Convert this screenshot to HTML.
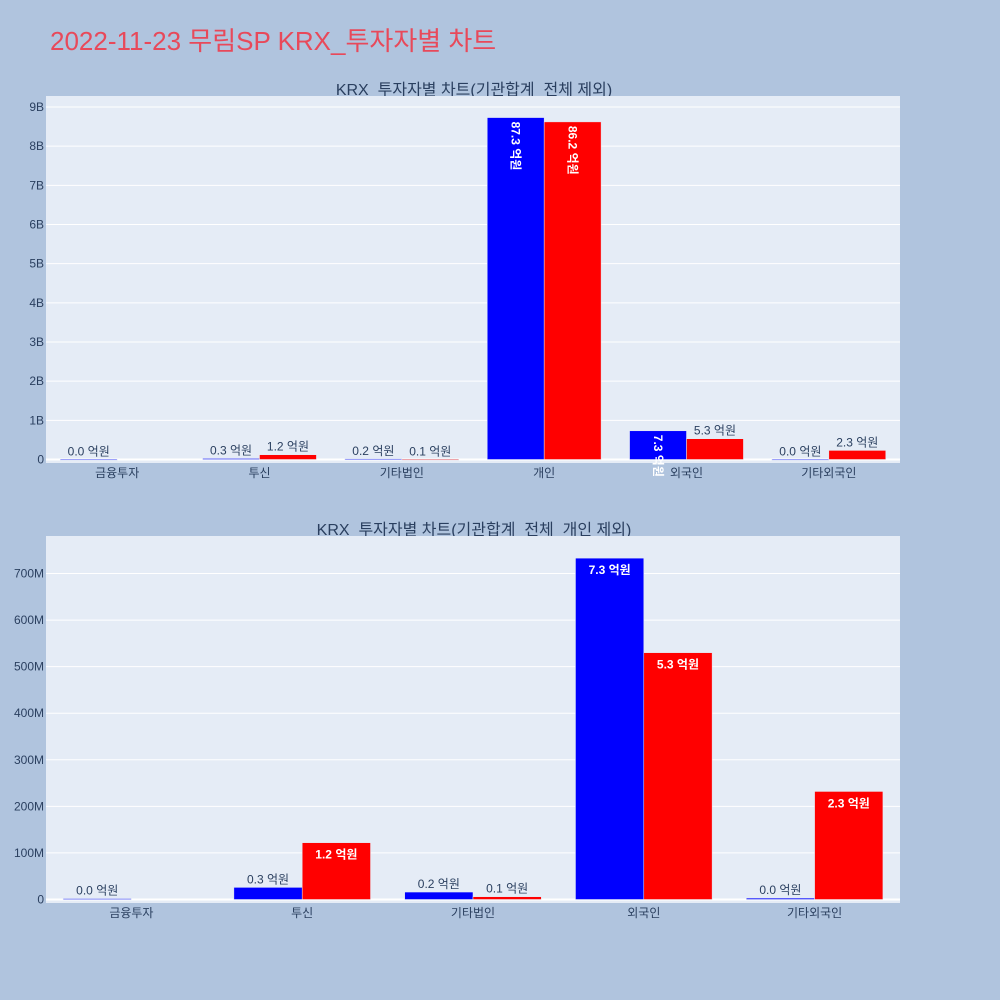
<!DOCTYPE html>
<html><head><meta charset="utf-8"><style>
body{margin:0;background:#b0c4de;}
svg{display:block;font-family:"Liberation Sans","Noto Sans CJK KR",sans-serif;}
</style></head><body>
<svg id="s" width="1000" height="1000">
<rect width="1000" height="1000" fill="#b0c4de"/>
<text x="50" y="50" font-size="26" fill="#e8495a">2022-11-23 무림SP KRX_투자자별 차트</text>
<text x="474" y="95" font-size="16" fill="#2a3f5f" text-anchor="middle">KRX_투자자별 차트(기관합계_전체 제외)</text>
<text x="474" y="535" font-size="16" fill="#2a3f5f" text-anchor="middle">KRX_투자자별 차트(기관합계_전체_개인 제외)</text>
<g id="g1"></g><g id="g2"></g>
</svg>
<script>
const topCats=["금융투자","투신","기타법인","개인","외국인","기타외국인"];
const topBuy=[0.002e9,0.026e9,0.016e9,8.73e9,0.733e9,0.003e9];
const topSell=[0,0.122e9,0.006e9,8.62e9,0.53e9,0.232e9];
const topBuyLbl=["0.0 억원","0.3 억원","0.2 억원","87.3 억원","7.3 억원","0.0 억원"];
const topSellLbl=["","1.2 억원","0.1 억원","86.2 억원","5.3 억원","2.3 억원"];
const topTicks=[0,1e9,2e9,3e9,4e9,5e9,6e9,7e9,8e9,9e9];
const topTickLbl=["0","1B","2B","3B","4B","5B","6B","7B","8B","9B"];
const botCats=["금융투자","투신","기타법인","외국인","기타외국인"];
const botBuy=[0.002e9,0.026e9,0.016e9,0.733e9,0.003e9];
const botSell=[0,0.122e9,0.006e9,0.53e9,0.232e9];
const botBuyLbl=["0.0 억원","0.3 억원","0.2 억원","7.3 억원","0.0 억원"];
const botSellLbl=["","1.2 억원","0.1 억원","5.3 억원","2.3 억원"];
const botTicks=[0,1e8,2e8,3e8,4e8,5e8,6e8,7e8];
const botTickLbl=["0","100M","200M","300M","400M","500M","600M","700M"];
const NS="http://www.w3.org/2000/svg";
function mk(p,t,a){const e=document.createElementNS(NS,t);for(const k in a)e.setAttribute(k,a[k]);p.appendChild(e);return e;}
function draw(g,cfg){
 const {x0,x1,yt,yb,y0,ymaxPx,ymax,cats,buy,sell,bl,sl,ticks,tl,pre}=cfg;
 const bg=mk(g,'rect',{x:x0,y:yt,width:x1-x0,height:yb-yt,fill:'#e5ecf6'});
 
 const Y=v=>y0-(v/ymax)*(y0-ymaxPx);
 ticks.forEach((t,i)=>{
  const gl=mk(g,'line',{x1:x0,x2:x1,y1:Y(t),y2:Y(t),stroke:'#fff','stroke-width':i==0?2:1});
  
  const tx=mk(g,'text',{x:x0-2,y:Y(t)+4,'font-size':12,fill:'#2a3f5f','text-anchor':'end'});tx.textContent=tl[i];
  
 });
 const cw=(x1-x0)/cats.length,bw=cw*0.8/2;
 cats.forEach((c,i)=>{
  const cx=x0+cw*(i+0.5);
  const tx=mk(g,'text',{x:cx,y:yb+14,'font-size':12,fill:'#2a3f5f','text-anchor':'middle'});tx.textContent=c;
  
  [[buy[i],bl[i],'#0000ff',cx-bw],[sell[i],sl[i],'#ff0000',cx]].forEach(([v,l,col,bx],j)=>{
   if(!l)return;
   const h=y0-Y(v);
   const r=mk(g,'rect',{x:bx,y:Y(v),width:bw,height:Math.max(h,0.8),fill:col,stroke:'#e5ecf6','stroke-width':0.5});
   
   const mx=bx+bw/2;let t;
   if(h>24){
    if(bw<62){t=mk(g,'text',{x:mx,y:Y(v)+4,'font-size':12,'font-weight':'bold',fill:'#fff','text-anchor':'start',transform:`rotate(90 ${mx} ${Y(v)+4}) translate(0 4)`});}
    else t=mk(g,'text',{x:mx,y:Y(v)+16,'font-size':12,'font-weight':'bold',fill:'#fff','text-anchor':'middle'});
   }else t=mk(g,'text',{x:mx,y:Y(v)-4,'font-size':12,fill:'#2a3f5f','text-anchor':'middle'});
   t.textContent=l;
   
  });
 });
}
draw(document.getElementById('g1'),{x0:46,x1:900,yt:96,yb:463,y0:459.5,ymaxPx:107,ymax:9e9,cats:topCats,buy:topBuy,sell:topSell,bl:topBuyLbl,sl:topSellLbl,ticks:topTicks,tl:topTickLbl,pre:'top'});
draw(document.getElementById('g2'),{x0:46,x1:900,yt:536,yb:903,y0:899.5,ymaxPx:573.5,ymax:7e8,cats:botCats,buy:botBuy,sell:botSell,bl:botBuyLbl,sl:botSellLbl,ticks:botTicks,tl:botTickLbl,pre:'bottom'});
</script>
</body></html>
